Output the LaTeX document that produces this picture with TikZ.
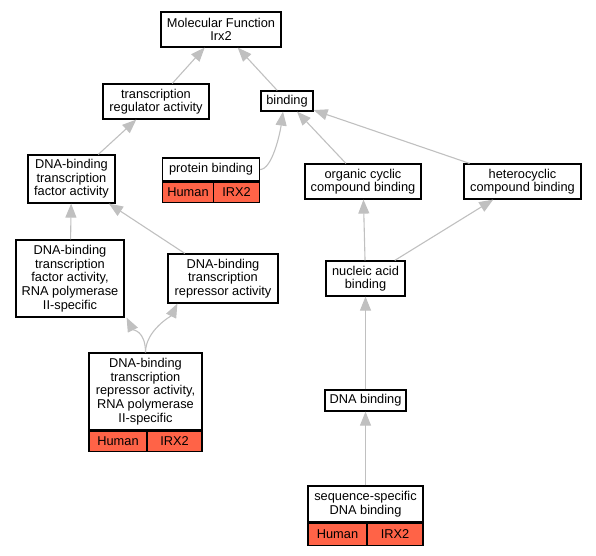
\documentclass[tikz,border=0pt]{standalone}
\usepackage{fontspec}
\setmainfont{Liberation Sans}
\usetikzlibrary{arrows.meta}
\definecolor{genered}{RGB}{255,99,71}
\definecolor{isagray}{RGB}{192,192,192}
\tikzset{
  goterm/.style={draw,fill=white,line width=1.2pt,inner sep=0pt,align=center,
    font=\fontsize{12.8}{13.6}\selectfont},
  genecell/.style={draw,fill=genered,line width=1.2pt,inner sep=0pt,minimum height=20,
    font=\fontsize{12.8}{13.6}\selectfont},
  isa/.style={draw=isagray,line width=1.1pt,-{Triangle[length=14pt,width=11pt]}}
}
\begin{document}
\begin{tikzpicture}[x=1pt,y=-1pt]
        \useasboundingbox (0,0) rectangle (596,555);

        \coordinate (c_mf) at (221,29.5);
        \coordinate (c_tra) at (156,101.5);
        \coordinate (c_bind) at (287,101);
        \coordinate (c_tf) at (71.5,179);
        \coordinate (c_pb) at (211,169.5);
        \coordinate (c_occ) at (363,181.5);
        \coordinate (c_hcc) at (522.5,181.5);
        \coordinate (c_tfp) at (70,278.5);
        \coordinate (c_rep) at (223,278.5);
        \coordinate (c_nab) at (365.5,278.5);
        \coordinate (c_rrp) at (145.5,391.5);
        \coordinate (c_dnab) at (365.5,400.5);
        \coordinate (c_ssb) at (365.5,504);

        \node[goterm,minimum width=120,minimum height=35] (mf) at (c_mf) {Molecular Function\\Irx2};
        \node[goterm,minimum width=106,minimum height=35] (tra) at (c_tra) {transcription\\regulator activity};
        \node[goterm,minimum width=52,minimum height=20] (bind) at (c_bind) {binding};
        \node[goterm,minimum width=87,minimum height=48] (tf) at (c_tf) {DNA-binding\\transcription\\factor activity};
        \node[goterm,minimum width=97,minimum height=23] (pb) at (c_pb) {protein binding};
        \node[genecell,minimum width=51,anchor=north west] (pb_sp) at (pb.south west) {Human};
        \node[genecell,minimum width=46,anchor=north east] (pb_gene) at (pb.south east) {IRX2};
        \node[goterm,minimum width=116,minimum height=35] (occ) at (c_occ) {organic cyclic\\compound binding};
        \node[goterm,minimum width=117,minimum height=35] (hcc) at (c_hcc) {heterocyclic\\compound binding};
        \node[goterm,minimum width=108,minimum height=77] (tfp) at (c_tfp) {DNA-binding\\transcription\\factor activity,\\RNA polymerase\\II-specific};
        \node[goterm,minimum width=110,minimum height=49] (rep) at (c_rep) {DNA-binding\\transcription\\repressor activity};
        \node[goterm,minimum width=79,minimum height=35] (nab) at (c_nab) {nucleic acid\\binding};
        \node[goterm,minimum width=113,minimum height=77] (rrp) at (c_rrp) {DNA-binding\\transcription\\repressor activity,\\RNA polymerase\\II-specific};
        \node[genecell,minimum width=58,anchor=north west] (rrp_sp) at (rrp.south west) {Human};
        \node[genecell,minimum width=55,anchor=north east] (rrp_gene) at (rrp.south east) {IRX2};
        \node[goterm,minimum width=81,minimum height=21] (dnab) at (c_dnab) {DNA binding};
        \node[goterm,minimum width=115,minimum height=36] (ssb) at (c_ssb) {sequence-specific\\DNA binding};
        \node[genecell,minimum width=59,minimum height=22,anchor=north west] (ssb_sp) at (ssb.south west) {Human};
        \node[genecell,minimum width=56,minimum height=22,anchor=north east] (ssb_gene) at (ssb.south east) {IRX2};

        \draw[isa] (tra) -- (mf);
        \draw[isa] (bind) -- (mf);
        \draw[isa] (tf) -- (tra);
        \draw[isa] (pb.east) .. controls +(12,0) and +(-3,22) .. ([xshift=-4]bind.south);
        \draw[isa] (occ) -- (bind);
        \draw[isa] (hcc) -- (bind);
        \draw[isa] (tfp) -- (tf);
        \draw[isa] (rep) -- (tf);
        \draw[isa] (nab) -- (occ);
        \draw[isa] (nab) -- (hcc);
        \draw[isa] (rrp.north) .. controls +(0,-22) and +(6,12) .. ([xshift=2]tfp.south east);
        \draw[isa] (rrp.north) .. controls +(0,-22) and +(-6,12) .. ([xshift=10]rep.south west);
        \draw[isa] (dnab) -- (nab);
        \draw[isa] (ssb) -- (dnab);
    \end{tikzpicture}
\end{document}
